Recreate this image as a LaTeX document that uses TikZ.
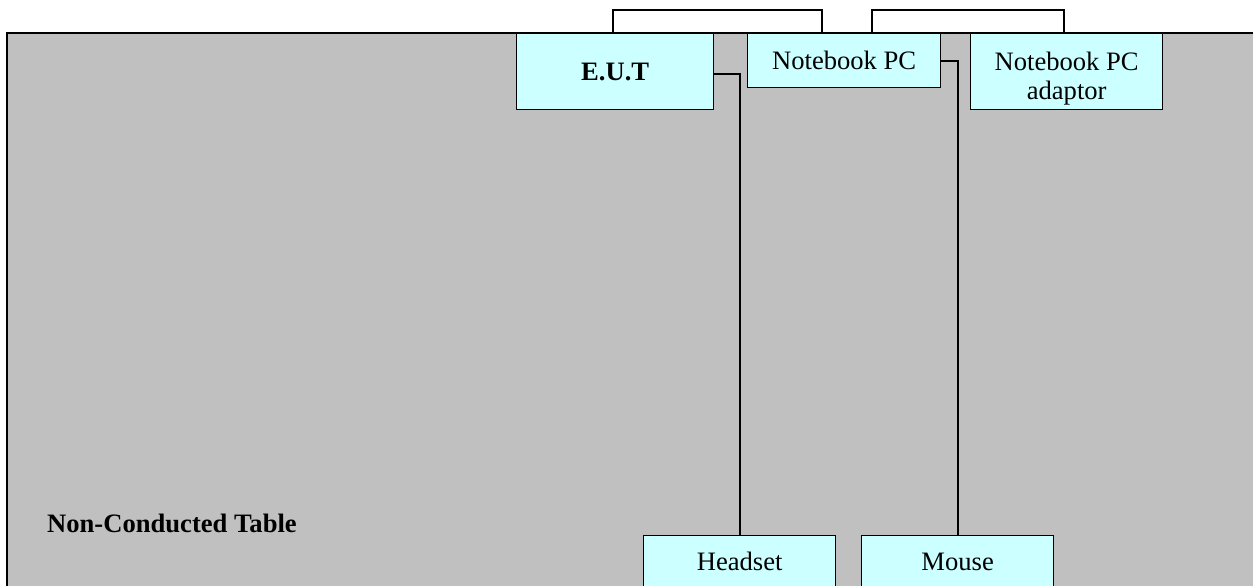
\documentclass[tikz,border=0pt]{standalone}
\usepackage{fontspec}
\setmainfont{Liberation Serif}
\definecolor{tablegray}{HTML}{C0C0C0}
\definecolor{boxcyan}{HTML}{CCFFFF}
\begin{document}
\begin{tikzpicture}[x=1pt,y=1pt,
  dev/.style={draw=black, line width=1.3pt, fill=boxcyan, inner sep=0pt, anchor=north west,
    font=\fontsize{26.6}{29}\selectfont, align=center},
  wire/.style={draw=black, line width=2pt},
  lbl/.style={font=\fontsize{26.6}{29}\selectfont\bfseries, inner sep=0pt}]
\useasboundingbox (0,0) rectangle (1253,-586);
\clip (0,0) rectangle (1253,-586);
\draw[fill=tablegray, line width=2.2pt] (7,-33) rectangle (1270,-620);
\node[dev, minimum width=197pt, minimum height=76pt] (eut) at (516,-33) {\bfseries E.U.T};
\node[dev, minimum width=193pt, minimum height=54pt] (nb) at (747,-33) {Notebook PC};
\node[dev, minimum width=192pt, minimum height=76pt] (ad) at (970,-33)
  {\raisebox{0pt}[\dimexpr\height+16pt\relax][\depth]{\begin{tabular}{@{}c@{}}Notebook PC\\adaptor\end{tabular}}};
\node[dev, minimum width=192pt, minimum height=52pt] (hs) at (643,-535) {Headset};
\node[dev, minimum width=192pt, minimum height=52pt] (ms) at (861,-535) {Mouse};
\node[lbl, anchor=base west] (tbl) at (47,-532) {Non-Conducted Table};
\draw[wire] ([xshift=-2pt]eut.north) -- ++(0,23) -| ([xshift=-22.5pt]nb.north);
\draw[wire] ([xshift=27.5pt]nb.north) -- ++(0,23) -| ([xshift=-3pt]ad.north);
\draw[wire] ([yshift=-2pt]eut.east) -| (hs.north);
\draw[wire] (nb.east) -| (ms.north);
\end{tikzpicture}
\end{document}
